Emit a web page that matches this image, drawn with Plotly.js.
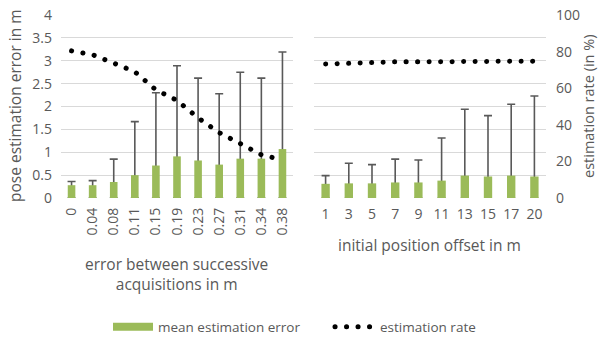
<!DOCTYPE html>
<html>
<head>
<meta charset="utf-8">
<script src="https://cdn.plot.ly/plotly-3.0.1.min.js"></script>
<style>
html,body{margin:0;padding:0;background:#fff;}
#chart{width:598px;height:340px;}
#chart .scatterlayer path.js-line,
#chart .legend .traces:last-child path.js-line{stroke-linecap:round;}
</style>
</head>
<body>
<div id="chart"></div>
<script>
// ---- data ----
const leftCats  = ['0','0.04','0.08','0.11','0.15','0.19','0.23','0.27','0.31','0.34','0.38'];
const leftMean  = [0.28,0.28,0.35,0.50,0.71,0.91,0.82,0.73,0.86,0.86,1.07];
const leftSd    = [0.08,0.10,0.50,1.17,1.59,1.98,1.80,1.55,1.89,1.76,2.12];
const leftRate  = [80.4,78.3,73.7,69.0,59.1,53.3,43.8,35.7,29.7,23.6,20.8];

const rightCats = ['1','3','5','7','9','11','13','15','17','20'];
const rightMean = [0.31,0.32,0.32,0.34,0.34,0.38,0.49,0.47,0.49,0.47];
const rightSd   = [0.18,0.44,0.41,0.51,0.49,0.93,1.45,1.33,1.56,1.76];
const rightRate = [73.2,73.8,74.2,74.4,74.4,74.6,74.8,74.8,74.9,74.8];

const errTicks  = [0,0.5,1,1.5,2,2.5,3,3.5,4];
const errLabels = ['0','0.5','1','1.5','2','2.5','3','3.5','4'];
const rateTicks = [0,20,40,60,80,100];

// ---- style ----
const FONT = '"Open Sans", "DejaVu Sans", sans-serif';
const TXT = '#595959';
const GREEN = '#9BBB59';
const GRID = '#D9D9D9';
const BARW = 0.36;

function errCarrier(x, mean, sd, xa, ya) {
  return {
    type: 'bar', x: x, y: mean, xaxis: xa, yaxis: ya, width: BARW,
    marker: {color: 'rgba(0,0,0,0)'}, showlegend: false, hoverinfo: 'skip',
    error_y: {type: 'data', symmetric: false, array: sd, arrayminus: mean,
              color: '#595959', thickness: 1.6, width: 4}
  };
}
function bars(x, mean, xa, ya) {
  return {
    type: 'bar', x: x, y: mean, xaxis: xa, yaxis: ya, width: BARW,
    marker: {color: GREEN}, name: 'mean estimation error', showlegend: false
  };
}
function rate(x, r, xa, ya, show) {
  return {
    type: 'scatter', mode: 'lines', x: x, y: r, xaxis: xa, yaxis: ya,
    line: {color: '#000000', width: 5, dash: '0.1px,11.4px'},
    name: 'estimation rate', showlegend: show
  };
}
// legend swatch for the bars (wide green bar as in the original legend)
const barLegend = {
  type: 'scatter', mode: 'lines', x: [null], y: [null], xaxis: 'x', yaxis: 'y',
  line: {color: GREEN, width: 8}, name: 'mean estimation error', showlegend: true,
  hoverinfo: 'skip'
};

const traces = [
  errCarrier(leftCats, leftMean, leftSd, 'x', 'y'),
  bars(leftCats, leftMean, 'x', 'y'),
  errCarrier(rightCats, rightMean, rightSd, 'x2', 'y3'),
  bars(rightCats, rightMean, 'x2', 'y3'),
  barLegend,
  rate(leftCats, leftRate, 'x', 'y2', true),
  rate(rightCats, rightRate, 'x2', 'y4', false)
];

// plot area: x 61..546, y 15..198 (px)
const PL = 61, PR = 546, PT = 15, PB = 198;
const PW = PR - PL, PH = PB - PT;
const px = v => (v - PL) / PW;
const py = v => (PB - v) / PH;
const tickFont = {family: FONT, size: 14, color: TXT};

const layout = {
  width: 598, height: 340,
  margin: {l: PL, r: 598 - PR, t: PT, b: 340 - PB, pad: 0},
  paper_bgcolor: '#fff', plot_bgcolor: 'rgba(0,0,0,0)',
  font: {family: FONT, color: TXT},
  barmode: 'overlay',
  showlegend: true,
  xaxis: {domain: [0, px(293)], type: 'category', anchor: 'y',
          tickangle: -90, tickfont: tickFont, ticks: '', showgrid: false,
          showline: false, zeroline: false, automargin: false, ticklabelstandoff: 6},
  xaxis2: {domain: [px(314), 1], type: 'category', anchor: 'y3',
           tickangle: 0, tickfont: tickFont, ticks: '', showgrid: false,
           showline: false, zeroline: false, automargin: false, ticklabelstandoff: 6},
  yaxis: {domain: [0, 1], anchor: 'x', range: [0, 4], tickvals: errTicks, ticktext: errLabels,
          tickfont: tickFont, ticks: '', gridcolor: GRID, gridwidth: 1,
          zeroline: false, showline: false, automargin: false, ticklabelstandoff: 8},
  yaxis2: {domain: [0, 1], anchor: 'x', overlaying: 'y', range: [0, 100],
           showticklabels: false, showgrid: false, zeroline: false, automargin: false},
  yaxis3: {domain: [0, 1], anchor: 'x2', range: [0, 4], tickvals: errTicks,
           showticklabels: false, ticks: '', gridcolor: GRID, gridwidth: 1,
           zeroline: false, showline: false, automargin: false},
  yaxis4: {domain: [0, 1], anchor: 'x2', overlaying: 'y3', side: 'right', range: [0, 100],
           tickvals: rateTicks, tickfont: tickFont, ticks: '', showgrid: false,
           zeroline: false, showline: false, automargin: false, ticklabelstandoff: 9},
  legend: {orientation: 'h', xref: 'container', yref: 'container',
           x: 108/598, xanchor: 'left', y: 1 - 327/340, yanchor: 'middle',
           font: {family: FONT, size: 13.5, color: TXT}, entrywidth: 167,
           bgcolor: 'rgba(0,0,0,0)', itemwidth: 40},
  annotations: [
    {text: 'pose estimation error in m', xref: 'paper', yref: 'paper',
     x: px(15), y: py(106), textangle: -90, showarrow: false,
     xanchor: 'center', yanchor: 'middle', font: {family: FONT, size: 15.5, color: TXT}},
    {text: 'estimation rate (in %)', xref: 'paper', yref: 'paper',
     x: px(588), y: py(106), textangle: -90, showarrow: false,
     xanchor: 'center', yanchor: 'middle', font: {family: FONT, size: 14.5, color: TXT}},
    {text: 'error between successive<br>acquisitions in m', xref: 'paper', yref: 'paper',
     x: px(176), y: py(273.5), showarrow: false, align: 'center',
     xanchor: 'center', yanchor: 'middle', font: {family: FONT, size: 15.5, color: TXT}},
    {text: 'initial position offset in m', xref: 'paper', yref: 'paper',
     x: px(429), y: py(245), showarrow: false,
     xanchor: 'center', yanchor: 'middle', font: {family: FONT, size: 15.5, color: TXT}}
  ]
};

Plotly.newPlot('chart', traces, layout, {staticPlot: true, displayModeBar: false});
</script>
</body>
</html>
